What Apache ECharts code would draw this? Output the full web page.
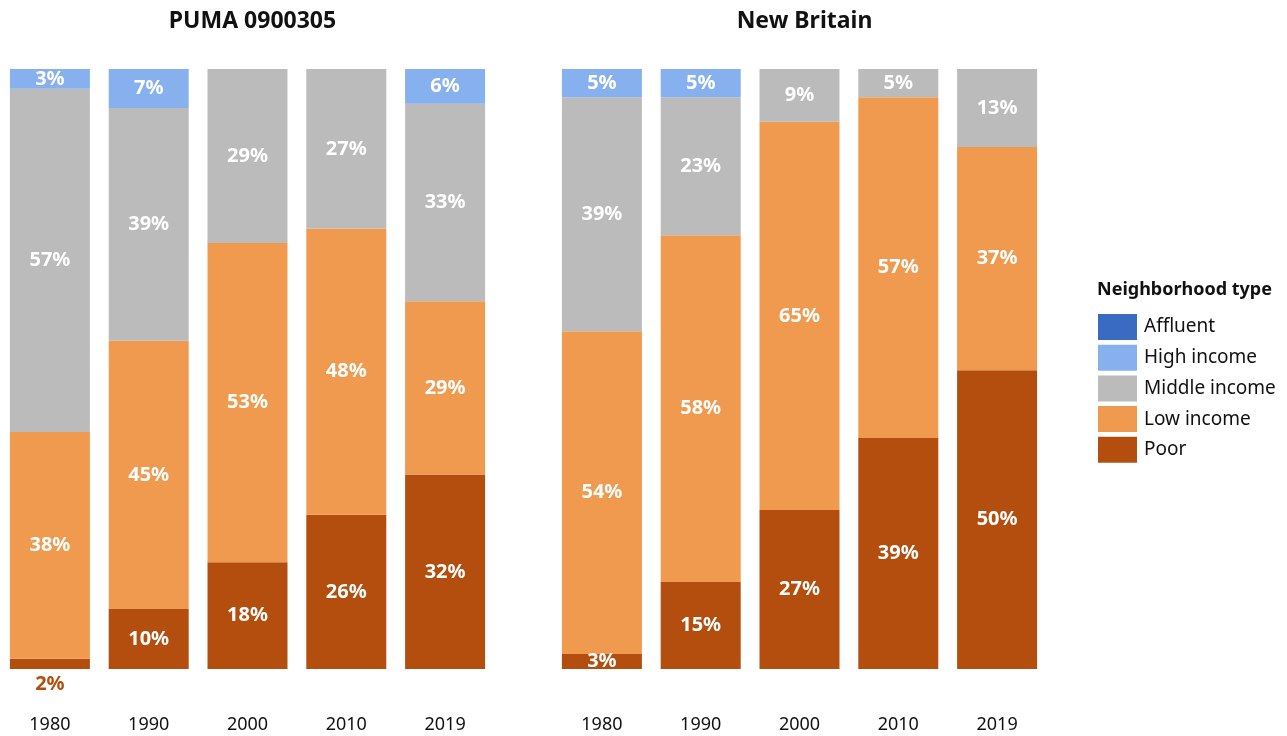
<!DOCTYPE html>
<html><head><meta charset="utf-8">
<script src="https://cdn.jsdelivr.net/npm/echarts@6/dist/echarts.min.js"></script>
<style>html,body{margin:0;padding:0;background:#fff}#c{width:1287px;height:736px}</style>
</head><body><div id="c"></div>
<script>
const years = ['1980','1990','2000','2010','2019'];
const panels = ['PUMA 0900305','New Britain'];
const typeNames = ['Affluent','High income','Middle income','Low income','Poor'];
// values in %, per panel, per year
const pumaPoor    = [1.7, 10.0, 17.8, 25.7, 32.4];
const pumaLow     = [37.8, 44.7, 53.2, 47.7, 28.9];
const pumaMiddle  = [57.2, 38.8, 29.0, 26.6, 32.9];
const pumaHigh    = [3.3, 6.5, 0, 0, 5.8];
const pumaAffluent= [0, 0, 0, 0, 0];
const nbPoor      = [2.5, 14.5, 26.5, 38.5, 49.8];
const nbLow       = [53.8, 57.8, 64.7, 56.8, 37.2];
const nbMiddle    = [39.0, 23.0, 8.8, 4.7, 13.0];
const nbHigh      = [4.7, 4.7, 0, 0, 0];
const nbAffluent  = [0, 0, 0, 0, 0];

const colors = {'Affluent':'#3a6bc3','High income':'#87b1ee','Middle income':'#bbbbbb','Low income':'#f09a50','Poor':'#b34e0e'};
const FONT = 'Noto Sans';

const panelData = [
  {'Poor':pumaPoor,'Low income':pumaLow,'Middle income':pumaMiddle,'High income':pumaHigh,'Affluent':pumaAffluent},
  {'Poor':nbPoor,'Low income':nbLow,'Middle income':nbMiddle,'High income':nbHigh,'Affluent':nbAffluent}
];
const stackOrder = ['Poor','Low income','Middle income','High income','Affluent'];

const series = [];
panelData.forEach((pd, pi) => {
  stackOrder.forEach(name => {
    series.push({
      type:'bar', name, stack:'s'+pi, xAxisIndex:pi, yAxisIndex:pi, barWidth:80,
      itemStyle:{color:colors[name]},
      label:{show:true, position:'inside', color:'#fff', fontFamily:FONT, fontWeight:'bold', fontSize:20,
        formatter:p => (p.value >= 0.5 ? Math.round(p.value)+'%' : '')},
      data: pd[name].map((v, i) => {
        if (pi === 0 && name === 'Poor' && i === 0) {
          return {value:v, label:{position:'bottom', distance:5, color:'#b34e0e'}};
        }
        return v;
      })
    });
  });
});

const grids = [{left:0.5, width:494, top:69, bottom:67}, {left:552.5, width:494, top:69, bottom:67}];
const chart = echarts.init(document.getElementById('c'));
chart.setOption({
  animation:false,
  title: panels.map((t, i) => ({
    text:t, left: i===0 ? 247.5 : 799.5, top:5, textAlign:'center',
    textStyle:{fontFamily:FONT, fontWeight:'bold', fontSize:23, color:'#111'}
  })),
  legend:{
    data:typeNames, orient:'vertical', left:1093, top:309, itemWidth:39, itemHeight:26, itemGap:4.7,
    icon:'rect', textStyle:{fontFamily:FONT, fontSize:19, color:'#111', padding:[0,0,0,2]}, selectedMode:false
  },
  graphic:[{type:'text', left:1097, top:281, style:{text:'Neighborhood type', fontFamily:FONT, fontWeight:'bold', fontSize:18, fill:'#111'}}],
  grid: grids,
  xAxis: grids.map((g, i) => ({
    type:'category', gridIndex:i, data:years,
    axisLine:{show:false}, axisTick:{show:false},
    axisLabel:{margin:47, fontFamily:FONT, fontSize:18, color:'#111'}
  })),
  yAxis: grids.map((g, i) => ({type:'value', gridIndex:i, min:0, max:100, show:false, splitLine:{show:false}})),
  series
});
</script></body></html>
